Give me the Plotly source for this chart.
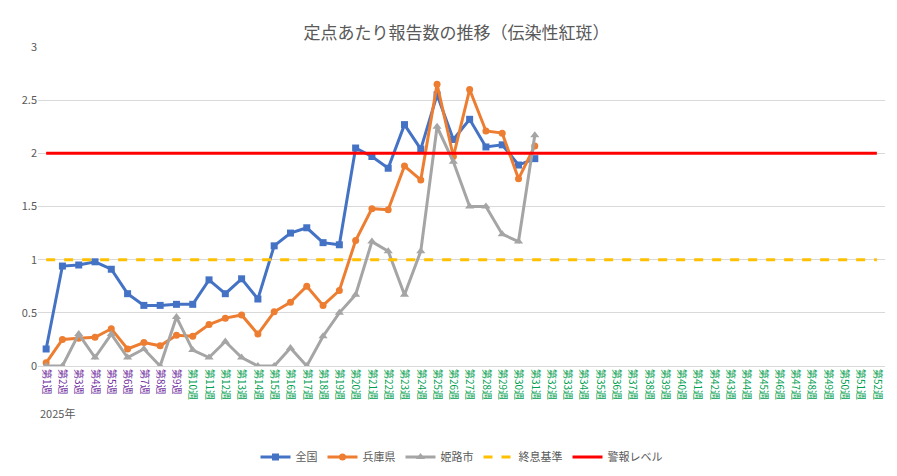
import plotly.graph_objects as go

weeks = [f"第{i}週" for i in range(1, 53)]
zenkoku = [0.16, 0.94, 0.95, 0.98, 0.91, 0.68, 0.57, 0.57, 0.58, 0.58, 0.81, 0.68, 0.82, 0.63, 1.13, 1.25,
           1.30, 1.16, 1.14, 2.05, 1.97, 1.86, 2.27, 2.04, 2.55, 2.13, 2.32, 2.06, 2.08, 1.89, 1.95]
hyogo = [0.03, 0.25, 0.26, 0.27, 0.35, 0.16, 0.22, 0.19, 0.29, 0.28, 0.39, 0.45, 0.48, 0.30, 0.51, 0.60,
         0.75, 0.57, 0.71, 1.18, 1.48, 1.47, 1.88, 1.75, 2.65, 1.97, 2.60, 2.21, 2.19, 1.76, 2.07]
himeji = [0, 0, 0.30, 0.08, 0.30, 0.08, 0.16, 0, 0.46, 0.15, 0.08, 0.23, 0.08, 0, 0, 0.17,
          0, 0.28, 0.50, 0.67, 1.17, 1.08, 0.67, 1.08, 2.25, 1.92, 1.50, 1.50, 1.24, 1.17, 2.17]
shuusoku = [1.0] * 52
keihou = [2.0] * 52

fig = go.Figure()
fig.add_trace(go.Scatter(x=weeks[:len(zenkoku)], y=zenkoku, name="全国", mode="lines+markers",
                         line=dict(color="#4472C4", width=3), marker=dict(symbol="square", size=7)))
fig.add_trace(go.Scatter(x=weeks[:len(hyogo)], y=hyogo, name="兵庫県", mode="lines+markers",
                         line=dict(color="#ED7D31", width=3), marker=dict(symbol="circle", size=7)))
fig.add_trace(go.Scatter(x=weeks[:len(himeji)], y=himeji, name="姫路市", mode="lines+markers",
                         line=dict(color="#A5A5A5", width=3), marker=dict(symbol="triangle-up", size=8)))
fig.add_trace(go.Scatter(x=weeks, y=shuusoku, name="終息基準", mode="lines",
                         line=dict(color="#FFC000", width=3, dash="dash")))
fig.add_trace(go.Scatter(x=weeks, y=keihou, name="警報レベル", mode="lines",
                         line=dict(color="#FF0000", width=3)))

ticktext = [f'<span style="color:{"#7030A0" if i < 10 else "#00A050"}">第{i}週</span>' for i in range(1, 53)]

fig.update_layout(
    width=897, height=476, paper_bgcolor="white", plot_bgcolor="white",
    font=dict(family="Noto Sans CJK JP", color="#595959", size=11),
    title=dict(text="定点あたり報告数の推移（伝染性紅斑）", x=0.5, y=0.96, font=dict(size=17)),
    margin=dict(l=30, r=20, t=39, b=107),
    xaxis=dict(tickmode="array", tickvals=weeks, ticktext=ticktext, tickangle=90, automargin=False,
               showgrid=False, linecolor="#D9D9D9", tickfont=dict(size=10), range=[-0.5, 51.5]),
    yaxis=dict(range=[0, 3], dtick=0.5, gridcolor="#D9D9D9", zeroline=False, automargin=False,
               tickfont=dict(size=11)),
    legend=dict(orientation="h", x=0.5, xanchor="center", y=-0.24, font=dict(size=11)),
    annotations=[dict(text="2025年", x=0.0, y=-0.18, xref="paper", yref="paper", showarrow=False,
                      xanchor="left", font=dict(size=11))],
)

fig.write_html("out.html")
